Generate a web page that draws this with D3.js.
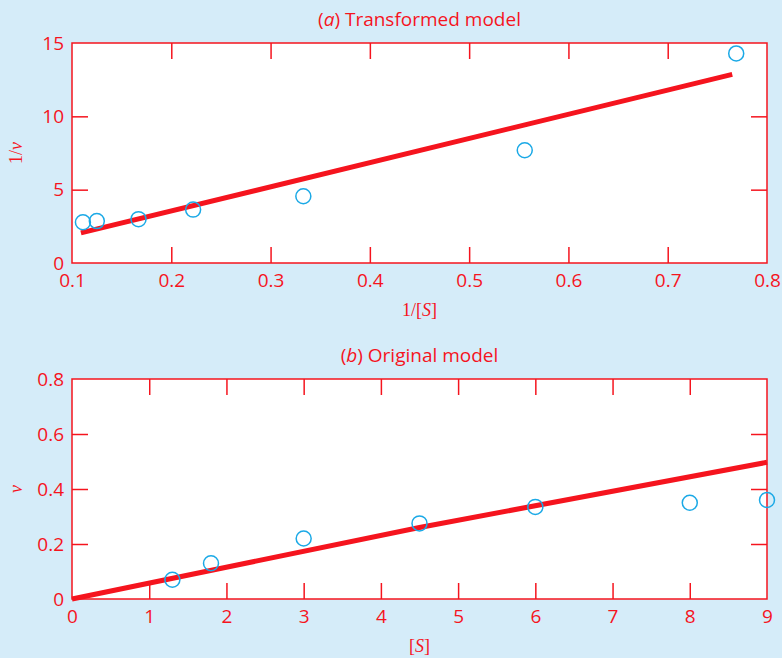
<!DOCTYPE html>
<html>
<head>
<meta charset="utf-8">
<script src="https://cdn.jsdelivr.net/npm/d3@7"></script>
<style>
  body { margin: 0; background: #d5ecf9; }
  svg { display: block; }
  .tick text { font-family: "Open Sans", sans-serif; font-size: 19px; fill: #f5141e; }
  .tick line { stroke: #f5141e; stroke-width: 1.5; }
  .domain { display: none; }
</style>
</head>
<body>
<svg id="chart"></svg>
<script>
// Data: substrate concentration [S] and reaction rate v
const sVals = [1.3, 1.8, 3, 4.5, 6, 8, 9];
const vVals = [0.07, 0.13, 0.22, 0.275, 0.335, 0.35, 0.36];

// Transformed data (1/[S], 1/v)
const invS = [0.769, 0.556, 0.333, 0.222, 0.167, 0.125, 0.111];
const invV = [14.29, 7.69, 4.55, 3.64, 2.99, 2.86, 2.78];

// Fitted lines
const fitAx = [0.109, 0.765];
const fitAy = [2.05, 12.86];
const fitBx = [0, 4.5, 9];
const fitBy = [0, 0.26, 0.497];

// Ticks
const ticksAx = [0.1, 0.2, 0.3, 0.4, 0.5, 0.6, 0.7, 0.8];
const ticksAy = [0, 5, 10, 15];
const ticksBx = [0, 1, 2, 3, 4, 5, 6, 7, 8, 9];
const ticksBy = [0, 0.2, 0.4, 0.6, 0.8];

const W = 782, H = 658;
const red = "#f5141e", blue = "#1ba9e6";

const svg = d3.select("#chart").attr("width", W).attr("height", H);

function panel(opts) {
    const { top, bottom, left, right } = opts;
    const x = d3.scaleLinear().domain(opts.xDomain).range([left, right]);
    const y = d3.scaleLinear().domain(opts.yDomain).range([bottom, top]);

    // white plot area
    svg.append("rect")
        .attr("x", left).attr("y", top)
        .attr("width", right - left).attr("height", bottom - top)
        .attr("fill", "#fff");

    const inner = opts.xTicks.slice(1, -1);
    const innerY = opts.yTicks.slice(1, -1);

    // bottom axis with labels, ticks pointing in
    svg.append("g")
        .attr("transform", `translate(0,${bottom})`)
        .call(d3.axisBottom(x).tickValues(opts.xTicks).tickSizeInner(-16).tickSizeOuter(0)
            .tickPadding(11).tickFormat(d3.format("")))
        .selectAll(".tick line").filter(d => !inner.includes(d)).remove();

    // top axis, ticks only
    svg.append("g")
        .attr("transform", `translate(0,${top})`)
        .call(d3.axisTop(x).tickValues(inner).tickSizeInner(-16).tickSizeOuter(0).tickFormat(""));

    // left axis with labels
    svg.append("g")
        .attr("transform", `translate(${left},0)`)
        .call(d3.axisLeft(y).tickValues(opts.yTicks).tickSizeInner(-16).tickSizeOuter(0)
            .tickPadding(8).tickFormat(d3.format("")))
        .selectAll(".tick line").filter(d => !innerY.includes(d)).remove();

    // right axis, ticks only
    svg.append("g")
        .attr("transform", `translate(${right},0)`)
        .call(d3.axisRight(y).tickValues(innerY).tickSizeInner(-16).tickSizeOuter(0).tickFormat(""));

    // frame
    svg.append("rect")
        .attr("x", left).attr("y", top)
        .attr("width", right - left).attr("height", bottom - top)
        .attr("fill", "none").attr("stroke", red).attr("stroke-width", 1.5);

    // fitted line
    const line = d3.line().x(d => x(d[0])).y(d => y(d[1]));
    svg.append("path")
        .datum(d3.zip(opts.fitX, opts.fitY))
        .attr("d", line)
        .attr("fill", "none").attr("stroke", red).attr("stroke-width", 5);

    // data points
    svg.append("g").selectAll("circle")
        .data(d3.zip(opts.px, opts.py))
        .join("circle")
        .attr("cx", d => x(d[0])).attr("cy", d => y(d[1]))
        .attr("r", 7.5)
        .attr("fill", "none").attr("stroke", blue).attr("stroke-width", 1.5);

    // title
    const t = svg.append("text")
        .attr("x", (left + right) / 2).attr("y", top - 17)
        .attr("text-anchor", "middle")
        .style("font-family", "'Open Sans', sans-serif")
        .style("font-size", "19px").style("fill", red);
    t.append("tspan").text("(");
    t.append("tspan").style("font-style", "italic").text(opts.letter);
    t.append("tspan").text(") " + opts.title);

    // x label
    const xl = svg.append("text")
        .attr("x", (left + right) / 2).attr("y", bottom + 53)
        .attr("text-anchor", "middle")
        .style("font-family", "'Liberation Serif', 'DejaVu Serif', serif")
        .style("font-size", "18px").style("fill", red);
    xl.append("tspan").text(opts.xPre + "[");
    xl.append("tspan").style("font-style", "italic").text("S");
    xl.append("tspan").text("]");

    // y label
    const yl = svg.append("text")
        .attr("transform", `translate(${opts.yLabelX},${(top + bottom) / 2}) rotate(-90)`)
        .attr("text-anchor", "middle")
        .style("font-family", "'Liberation Serif', 'DejaVu Serif', serif")
        .style("font-size", "18px").style("fill", red);
    if (opts.yPre) yl.append("tspan").text(opts.yPre);
    yl.append("tspan").style("font-style", "italic").text("v");
}

panel({
    top: 43, bottom: 263, left: 72, right: 767,
    xDomain: [0.1, 0.8], yDomain: [0, 15],
    xTicks: ticksAx, yTicks: ticksAy,
    px: invS, py: invV, fitX: fitAx, fitY: fitAy,
    letter: "a", title: "Transformed model",
    xPre: "1/", yPre: "1/", yLabelX: 22
});

panel({
    top: 379, bottom: 599, left: 72, right: 767,
    xDomain: [0, 9], yDomain: [0, 0.8],
    xTicks: ticksBx, yTicks: ticksBy,
    px: sVals, py: vVals, fitX: fitBx, fitY: fitBy,
    letter: "b", title: "Original model",
    xPre: "", yPre: "", yLabelX: 22
});
</script>
</body>
</html>
